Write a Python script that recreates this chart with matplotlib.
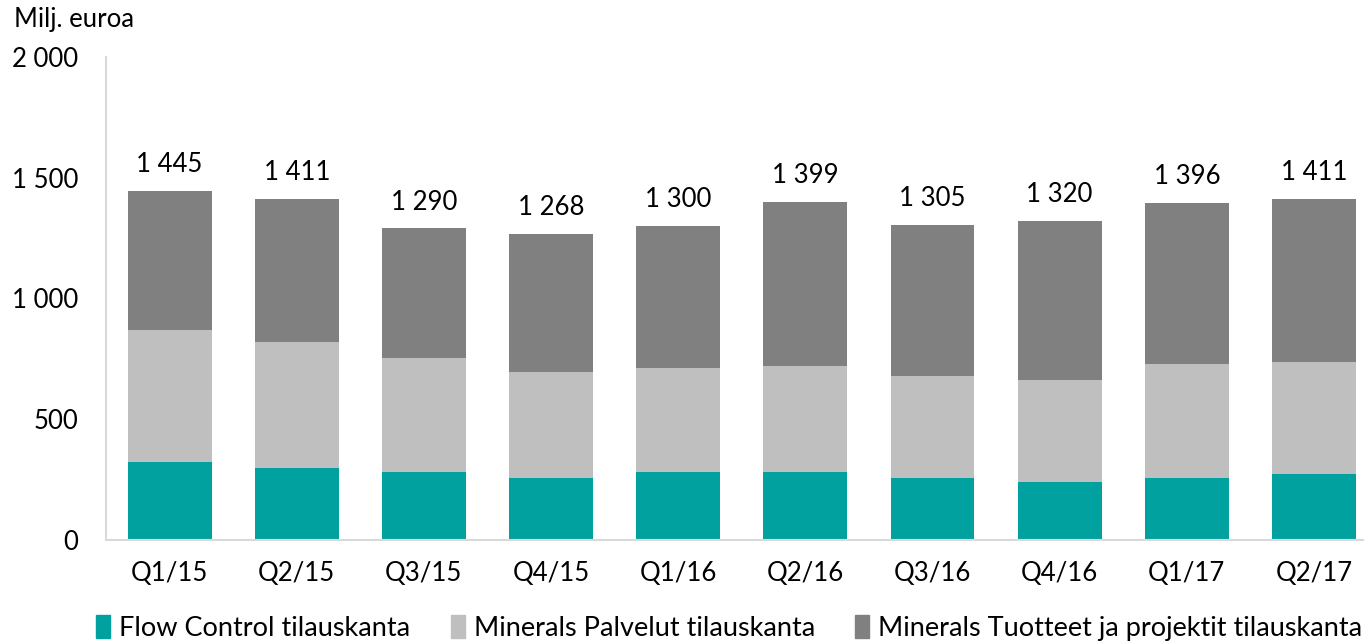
import matplotlib
matplotlib.use("Agg")
import matplotlib.pyplot as plt
from matplotlib.patches import Patch
from matplotlib.ticker import FuncFormatter

plt.rcParams['font.family'] = ['Lato', 'DejaVu Sans']

quarters = ["Q1/15", "Q2/15", "Q3/15", "Q4/15", "Q1/16",
            "Q2/16", "Q3/16", "Q4/16", "Q1/17", "Q2/17"]
flow_control = [323, 299, 282, 257, 282, 282, 257, 240, 257, 273]
minerals_palvelut = [547, 521, 472, 439, 430, 438, 422, 423, 472, 464]
minerals_tuotteet = [575, 591, 536, 572, 588, 679, 626, 657, 667, 674]
totals = [1445, 1411, 1290, 1268, 1300, 1399, 1305, 1320, 1396, 1411]

series_names = ["Flow Control tilauskanta", "Minerals Palvelut tilauskanta",
                "Minerals Tuotteet ja projektit tilauskanta"]
colors = ["#00A19F", "#BFBFBF", "#808080"]


def fmt_space(v, pos=None):
    return "{:,.0f}".format(v).replace(",", " ")


fig = plt.figure(figsize=(13.68, 6.42), dpi=100)
ax = fig.add_axes([0.0775, 0.1589, 0.9188, 0.7523])

x = list(range(len(quarters)))
width = 0.66
bottom2 = [a for a in flow_control]
bottom3 = [a + b for a, b in zip(flow_control, minerals_palvelut)]
ax.bar(x, flow_control, width, color=colors[0])
ax.bar(x, minerals_palvelut, width, bottom=bottom2, color=colors[1])
ax.bar(x, minerals_tuotteet, width, bottom=bottom3, color=colors[2])

for i, t in enumerate(totals):
    ax.annotate(fmt_space(t), (i, t), xytext=(0, 10), textcoords="offset points",
                ha="center", va="bottom", fontsize=18.5)

ax.set_ylim(0, 2000)
ax.set_xlim(-0.5, 9.385)
ax.set_yticks([0, 500, 1000, 1500, 2000])
ax.yaxis.set_major_formatter(FuncFormatter(fmt_space))
ax.set_xticks(x)
ax.set_xticklabels(quarters)
ax.tick_params(axis="both", length=0, labelsize=18.5)
ax.tick_params(axis="y", pad=20)
ax.tick_params(axis="x", pad=15)

for s in ["top", "right"]:
    ax.spines[s].set_visible(False)
for s in ["left", "bottom"]:
    ax.spines[s].set_color("#D9D9D9")
    ax.spines[s].set_linewidth(1.5)

fig.text(14 / 1368, 1 - 20 / 642, "Milj. euroa", fontsize=18.5, va="center", ha="left")

handles = [Patch(color=c) for c in colors]
fig.legend(handles, series_names, loc="center", bbox_to_anchor=(0.533, 0.022),
           ncol=3, frameon=False, fontsize=19.5, handlelength=0.52, handleheight=0.9,
           handletextpad=0.33, columnspacing=1.48, borderpad=0)

fig.savefig("out.png", dpi=100)
